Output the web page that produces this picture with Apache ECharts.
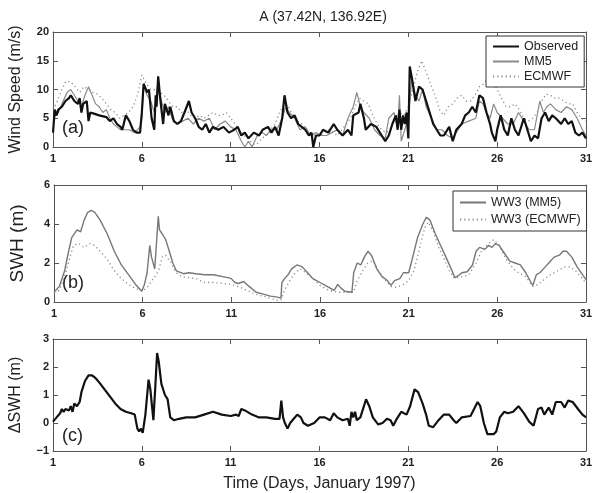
<!DOCTYPE html>
<html><head><meta charset="utf-8">
<script src="https://cdn.jsdelivr.net/npm/echarts@6/dist/echarts.min.js"></script>
<style>html,body{margin:0;padding:0;background:#fff}#c{width:596px;height:493px}</style>
</head><body><div id="c"></div>
<script>
const titleText = 'A (37.42N, 136.92E)';
const xTicks = [1, 6, 11, 16, 21, 26, 31];
// Panel (a) wind speed [day, m/s]
const windObserved = [[1,2.5],[1.1,6.5],[1.2,5.5],[1.3,6.5],[1.5,7],[1.7,8],[1.9,8.5],[2.0,9],[2.2,8],[2.4,7.5],[2.5,8.5],[2.6,6],[2.7,7.5],[2.9,8],[3.0,4.5],[3.1,6],[3.3,5.8],[3.6,5.5],[4.0,5.2],[4.2,4.5],[4.4,5],[4.6,4],[4.8,3.5],[4.9,3],[5.1,5.5],[5.3,4.5],[5.5,3],[5.7,2.5],[5.9,2.5],[6.0,6],[6.1,11],[6.3,9.5],[6.4,10],[6.55,5],[6.7,3],[6.78,9],[6.83,7],[6.92,12.3],[7.05,8],[7.2,4],[7.3,7.5],[7.5,5.5],[7.6,7],[7.8,4.5],[8.0,4],[8.2,4.5],[8.4,6],[8.65,8],[8.8,6],[9.0,5],[9.2,3.5],[9.4,3],[9.6,4],[9.8,2.5],[10,3.5],[10.3,3],[10.6,3.5],[10.9,2.5],[11.2,3],[11.4,3.5],[11.6,2],[11.8,2.5],[12.0,1.5],[12.3,2.5],[12.6,2],[12.8,3],[13.1,3.5],[13.3,2.5],[13.5,3.5],[13.7,2],[13.9,5],[14.03,9],[14.2,6],[14.4,5],[14.6,5.5],[14.8,4],[15.0,3.5],[15.2,3],[15.4,2],[15.55,2.5],[15.65,0],[15.8,2],[16.0,2],[16.2,3],[16.5,2.5],[16.8,4],[17.0,3],[17.3,2],[17.6,3],[17.8,2],[17.9,5.5],[18.2,6],[18.3,7.5],[18.5,5],[18.6,3],[18.9,4],[19.2,3.5],[19.5,2],[19.7,1],[19.9,2],[20.1,4],[20.3,5.5],[20.4,3],[20.5,6.5],[20.6,3],[20.7,5.5],[20.8,4],[20.9,6],[21.0,1.5],[21.08,14],[21.2,12],[21.4,8],[21.6,10.5],[21.8,10],[22.0,8],[22.2,6],[22.4,4],[22.6,3],[22.8,2],[23.0,2],[23.3,3.5],[23.5,1],[23.7,3],[24.0,4],[24.2,5.5],[24.4,6],[24.6,7],[24.8,6],[25.0,9],[25.2,8.5],[25.4,6],[25.6,4],[25.7,2.5],[25.9,1],[26.0,3],[26.2,5.5],[26.4,3],[26.6,2],[26.8,5],[27.0,3],[27.2,2],[27.5,5],[27.7,3],[27.9,1],[28.1,2],[28.3,1.5],[28.5,5],[28.7,6],[28.9,4.5],[29.1,5.5],[29.3,5],[29.6,4],[29.8,5],[30.0,4],[30.2,4.5],[30.4,2.5],[30.6,2],[30.8,2.5],[31,1.5]];
const windMM5 = [[1,5],[1.3,6],[1.5,7.5],[1.8,9.5],[2.0,10],[2.2,9],[2.4,8],[2.6,7],[2.8,9],[3.0,10.5],[3.2,9],[3.4,7.5],[3.6,7],[3.8,6],[4.0,6.5],[4.2,5],[4.4,4],[4.6,3.5],[4.8,3],[5.0,3],[5.3,3],[5.6,2.5],[5.9,3.5],[6.0,5],[6.1,10.5],[6.3,9],[6.5,8],[6.7,6],[6.9,11],[7.1,8],[7.3,6],[7.5,7],[7.7,5],[8.0,4],[8.3,4.5],[8.6,5],[8.9,4],[9.2,5],[9.5,4.5],[9.8,5],[10.1,3],[10.4,4],[10.7,4.5],[11.0,3.5],[11.3,3],[11.6,1],[11.8,0],[12.0,1],[12.2,0],[12.5,2],[12.8,2.5],[13.0,2],[13.3,3],[13.6,3],[13.9,5],[14.1,7],[14.3,6],[14.6,5],[14.9,3],[15.2,3.5],[15.5,2],[15.8,2.5],[16.1,2],[16.4,2],[16.7,2.5],[17.0,3],[17.3,2],[17.6,5],[17.9,7],[18.1,9.5],[18.3,7],[18.5,6],[18.8,5],[19.1,3],[19.4,2],[19.7,1.5],[19.9,5],[20.2,6],[20.4,3],[20.5,9],[20.6,1],[20.8,3],[21.0,5],[21.2,12],[21.4,9],[21.6,8],[21.8,10],[22.0,7],[22.3,5],[22.6,3],[22.9,3],[23.2,2],[23.5,1.5],[23.8,3],[24.0,4],[24.4,4.5],[24.8,5],[25.0,8],[25.2,7.5],[25.4,6],[25.6,5],[25.8,7.5],[26.0,6],[26.3,5],[26.6,4],[26.9,4],[27.2,6],[27.5,4.5],[27.8,3],[28.1,3],[28.4,8],[28.6,6],[28.8,7],[29.0,7.5],[29.3,6.5],[29.6,6],[29.9,7],[30.2,6.5],[30.5,5],[30.8,3],[31,2]];
const windECMWF = [[1,6.5],[1.25,8],[1.5,10],[1.75,11.5],[2.0,11.3],[2.25,10.5],[2.5,9.5],[2.75,10.5],[3.0,10],[3.25,9.5],[3.5,9.2],[3.75,8.5],[4.0,7.5],[4.25,6.5],[4.5,6],[4.75,5],[5.0,5.5],[5.25,6],[5.5,7],[5.75,9],[6.0,12.5],[6.25,11],[6.5,10],[6.75,10],[7.0,9.5],[7.25,9],[7.5,8],[7.75,7],[8.0,7],[8.25,6],[8.5,6.5],[8.75,5.5],[9.0,5],[9.25,5.5],[9.5,5],[9.75,5.5],[10.0,6],[10.25,5.5],[10.5,5.5],[10.75,6],[11.0,5],[11.25,4],[11.5,3],[11.75,2],[12.0,1.5],[12.25,0.5],[12.5,0.5],[12.75,1.5],[13.0,2],[13.25,3],[13.5,4],[13.75,6],[14.0,7.5],[14.25,7],[14.5,5.5],[14.75,4.5],[15.0,4],[15.25,3],[15.5,2.5],[15.75,2],[16.0,2],[16.25,2.5],[16.5,3],[16.75,2.5],[17.0,2],[17.25,3],[17.5,4],[17.75,5],[18.0,7],[18.25,8.5],[18.5,8],[18.75,7.5],[19.0,5.5],[19.25,4],[19.5,3],[19.75,2.5],[20.0,3],[20.25,5],[20.5,6],[20.75,5.5],[21.0,7],[21.25,10],[21.5,13],[21.75,15],[22.0,13],[22.25,11],[22.5,9],[22.75,6.5],[23.0,5.5],[23.25,7],[23.5,7.5],[23.75,8.5],[24.0,9],[24.25,8],[24.5,8],[24.75,9],[25.0,10.5],[25.25,11],[25.5,12],[25.75,11.5],[26.0,10],[26.25,8.5],[26.5,7],[26.75,7],[27.0,7.5],[27.25,6.5],[27.5,5],[27.75,4.5],[28.0,5],[28.25,6],[28.5,8],[28.75,9.2],[29.0,9],[29.25,8.5],[29.5,8.5],[29.75,8],[30.0,7.5],[30.25,7.5],[30.5,6],[30.75,5],[31,4.5]];
// Panel (b) significant wave height [day, m]
const swhMM5 = [[1.0,0.5],[1.3,0.8],[1.6,1.6],[1.8,2.5],[2.0,3.3],[2.1,3.4],[2.3,3.7],[2.5,3.6],[2.7,4.2],[2.9,4.6],[3.1,4.7],[3.3,4.6],[3.6,4.2],[4.0,3.5],[4.4,2.6],[4.8,1.9],[5.2,1.4],[5.6,0.9],[5.95,0.55],[6.1,0.9],[6.25,1.5],[6.4,2.9],[6.5,2.3],[6.68,1.7],[6.8,3.3],[6.88,4.4],[6.95,3.7],[7.1,3.5],[7.3,3.2],[7.5,2.6],[7.7,2.0],[7.9,1.6],[8.3,1.45],[8.6,1.5],[9.0,1.45],[9.5,1.4],[10.0,1.4],[10.5,1.3],[10.8,1.25],[11.0,1.2],[11.2,1.0],[11.4,0.95],[11.7,1.05],[12.0,0.8],[12.4,0.5],[12.8,0.4],[13.2,0.3],[13.6,0.25],[13.8,0.2],[13.85,1.0],[14.0,1.2],[14.2,1.4],[14.4,1.7],[14.7,1.9],[15.0,1.8],[15.3,1.5],[15.6,1.2],[16.0,1.0],[16.4,0.8],[16.8,0.6],[17.0,0.9],[17.2,0.7],[17.4,0.55],[17.8,0.5],[17.9,1.5],[18.1,2.0],[18.3,1.9],[18.5,2.3],[18.7,2.6],[18.9,2.4],[19.2,1.7],[19.5,1.3],[19.8,1.1],[20.0,0.85],[20.2,1.1],[20.5,1.2],[20.7,1.5],[21.0,1.5],[21.2,2.2],[21.5,3.3],[21.8,4.0],[22.0,4.35],[22.2,4.2],[22.5,3.5],[22.8,2.9],[23.1,2.3],[23.4,1.7],[23.6,1.25],[23.8,1.35],[24.0,1.5],[24.3,1.55],[24.6,1.9],[24.8,2.6],[25.0,2.8],[25.3,2.7],[25.5,2.9],[25.7,2.8],[25.9,3.0],[26.1,2.9],[26.4,2.5],[26.7,2.1],[27.0,2.0],[27.3,1.9],[27.6,1.5],[27.9,1.0],[28.0,0.85],[28.2,1.4],[28.4,1.5],[28.6,1.7],[28.9,2.0],[29.2,2.3],[29.5,2.4],[29.7,2.6],[29.9,2.6],[30.2,2.3],[30.5,1.8],[30.8,1.4],[31,1.15]];
const swhECMWF = [[1.0,0.5],[1.3,0.6],[1.6,1.3],[1.9,2.3],[2.1,2.9],[2.4,3.0],[2.7,2.8],[3.0,3.0],[3.3,2.9],[3.6,2.6],[4.0,2.2],[4.4,1.6],[4.8,1.2],[5.2,0.9],[5.6,0.7],[6.0,0.55],[6.3,0.8],[6.6,1.2],[6.9,1.6],[7.1,2.3],[7.3,2.4],[7.6,2.0],[7.9,1.5],[8.2,1.3],[8.6,1.25],[9.0,1.2],[9.5,1.0],[10.0,1.0],[10.5,0.95],[11.0,0.9],[11.5,0.75],[12.0,0.55],[12.5,0.35],[13.0,0.25],[13.5,0.1],[13.8,0.1],[14.0,0.6],[14.3,1.1],[14.6,1.5],[14.9,1.7],[15.2,1.5],[15.6,1.2],[16.0,0.85],[16.5,0.6],[17.0,0.5],[17.5,0.5],[17.9,0.5],[18.1,1.1],[18.4,1.6],[18.7,2.0],[19.0,2.1],[19.3,1.6],[19.6,1.2],[20.0,0.8],[20.3,0.75],[20.7,0.9],[21.0,1.1],[21.3,1.6],[21.6,2.7],[21.9,3.8],[22.1,4.1],[22.4,3.6],[22.7,2.8],[23.0,2.2],[23.3,1.6],[23.6,1.2],[24.0,1.3],[24.4,1.4],[24.8,2.0],[25.1,2.6],[25.5,3.0],[25.8,3.2],[26.1,2.9],[26.5,2.2],[26.9,1.7],[27.2,1.5],[27.6,1.3],[28.0,0.8],[28.3,0.9],[28.7,1.2],[29.0,1.4],[29.4,1.6],[29.8,1.8],[30.1,1.8],[30.4,1.6],[30.8,1.2],[31,0.95]];
// Panel (c) SWH difference [day, m]
const dSWH = [[1.0,0.05],[1.2,0.2],[1.4,0.35],[1.5,0.5],[1.6,0.4],[1.7,0.5],[1.9,0.45],[2.0,0.6],[2.1,0.4],[2.2,0.7],[2.35,0.6],[2.5,0.75],[2.6,1.1],[2.8,1.5],[3.0,1.7],[3.2,1.7],[3.4,1.6],[3.6,1.45],[3.9,1.2],[4.2,0.95],[4.5,0.7],[4.8,0.5],[5.1,0.4],[5.4,0.35],[5.6,0.3],[5.75,-0.2],[5.85,-0.3],[5.95,-0.2],[6.05,-0.35],[6.2,0.3],[6.3,1.0],[6.38,1.55],[6.48,1.2],[6.65,0.1],[6.75,1.2],[6.86,2.5],[6.95,2.2],[7.1,1.4],[7.3,1.0],[7.45,0.85],[7.6,0.2],[7.8,0.1],[8.1,0.15],[8.5,0.2],[9.0,0.2],[9.5,0.3],[10.0,0.4],[10.5,0.3],[11.0,0.25],[11.3,0.3],[11.45,0.25],[11.6,0.5],[11.8,0.45],[12.2,0.3],[12.6,0.2],[13.0,0.2],[13.5,0.15],[13.75,0.15],[13.85,0.8],[13.95,0.2],[14.05,0.0],[14.2,-0.2],[14.35,0.0],[14.55,0.15],[14.75,0.3],[14.95,0.2],[15.1,0.0],[15.35,-0.1],[15.7,0.0],[16.0,0.2],[16.3,0.2],[16.6,0.1],[16.8,0.35],[17.0,0.2],[17.3,0.1],[17.6,0.15],[17.7,-0.1],[17.8,0.4],[17.9,0.2],[18.0,0.4],[18.1,0.1],[18.3,0.2],[18.5,0.6],[18.62,0.85],[18.8,0.6],[19.0,0.2],[19.3,-0.05],[19.55,0.0],[19.8,0.15],[20.0,0.1],[20.15,-0.1],[20.35,0.15],[20.6,0.4],[20.9,0.3],[21.1,0.6],[21.35,1.2],[21.55,1.1],[21.8,0.7],[22.0,0.3],[22.15,-0.1],[22.4,-0.15],[22.7,0.1],[23.0,0.3],[23.3,0.3],[23.55,0.1],[23.7,0.0],[24.0,0.2],[24.5,0.25],[24.7,0.5],[24.9,0.75],[25.05,0.6],[25.25,0.0],[25.45,-0.4],[25.8,-0.4],[25.95,-0.3],[26.15,0.2],[26.4,0.4],[26.6,0.35],[26.9,0.4],[27.2,0.6],[27.5,0.35],[27.8,0.05],[28.05,-0.1],[28.3,0.5],[28.5,0.55],[28.65,0.3],[28.9,0.55],[29.1,0.3],[29.3,0.75],[29.6,0.75],[29.8,0.55],[30.0,0.8],[30.25,0.75],[30.55,0.5],[30.8,0.3],[31,0.2]];

const AX = '#555', TXT = '#222', FONT = 'Liberation Sans';
const grids = [
  {left: 50, top: 32, width: 536, height: 115},
  {left: 50, top: 185, width: 536, height: 117},
  {left: 50, top: 339, width: 536, height: 115}
];
const yRanges = [{min:0,max:20,interval:5},{min:0,max:6,interval:2},{min:-1,max:3,interval:1}];
const yNames = [
  {text:'Wind Speed (m/s)', size:16, gap:29},
  {text:'SWH (m)', size:19, gap:27},
  {text:'\u0394SWH (m)', size:16, gap:29}
];
const xAxes = [], yAxes = [];
grids.forEach((g, i) => {
  xAxes.push({gridIndex:i, type:'value', min:1, max:31, interval:5, position:'bottom',
    axisLine:{show:true, onZero:false, lineStyle:{color:AX, width:1}},
    axisTick:{show:true, inside:true, length:5, lineStyle:{color:AX}},
    axisLabel:{color:TXT, fontFamily:FONT, fontSize:11, fontWeight:'bold', margin:6},
    splitLine:{show:false},
    name: i===2 ? 'Time (Days, January 1997)' : '', nameLocation:'middle', nameGap:25,
    nameTextStyle:{color:TXT, fontFamily:FONT, fontSize:16}});
  xAxes.push({gridIndex:i, type:'value', min:1, max:31, interval:5, position:'top',
    axisLine:{show:true, onZero:false, lineStyle:{color:AX, width:1}},
    axisTick:{show:true, inside:true, length:5, lineStyle:{color:AX}},
    axisLabel:{show:false}, splitLine:{show:false}});
  const r = yRanges[i];
  yAxes.push({gridIndex:i, type:'value', min:r.min, max:r.max, interval:r.interval, position:'left',
    axisLine:{show:true, onZero:false, lineStyle:{color:AX, width:1}},
    axisTick:{show:true, inside:true, length:5, lineStyle:{color:AX}},
    axisLabel:{color:TXT, fontFamily:FONT, fontSize:11, fontWeight:'bold', margin:4,
      formatter: v => String(v).replace('-', '\u2212')},
    splitLine:{show:false},
    name: yNames[i].text, nameLocation:'middle', nameGap:yNames[i].gap, nameRotate:90,
    nameTextStyle:{color:TXT, fontFamily:FONT, fontSize:yNames[i].size}});
  yAxes.push({gridIndex:i, type:'value', min:r.min, max:r.max, interval:r.interval, position:'right',
    axisLine:{show:true, onZero:false, lineStyle:{color:AX, width:1}},
    axisTick:{show:true, inside:true, length:5, lineStyle:{color:AX}},
    axisLabel:{show:false}, splitLine:{show:false}});
});
function line(name, data, gi, color, width, type) {
  return {name, type:'line', data, xAxisIndex:gi*2, yAxisIndex:gi*2, showSymbol:false, symbol:'none',
    lineStyle:{color, width, type: type || 'solid'}, itemStyle:{color}, animation:false, z: type ? 2 : 3};
}
const dotted = [1.2, 3];
const legendBase = {orient:'vertical', itemWidth:26, itemHeight:10,
  borderColor:'#333', borderWidth:1, backgroundColor:'#fff',
  itemStyle:{color:'rgba(0,0,0,0)', borderColor:'rgba(0,0,0,0)', borderWidth:0},
  textStyle:{color:TXT, fontFamily:FONT, fontSize:12.5}};
const option = {
  backgroundColor:'#fff',
  animation:false,
  title:{text:titleText, left:318, textAlign:'center', top:5,
    textStyle:{color:TXT, fontFamily:FONT, fontSize:14, fontWeight:'normal'}},
  grid: grids.map(g => Object.assign({containLabel:false}, g)),
  xAxis: xAxes, yAxis: yAxes,
  legend:[
    Object.assign({}, legendBase, {data:['Observed','MM5','ECMWF'], left:486, top:36, itemGap:2, padding:[4,6,4,6]}),
    Object.assign({}, legendBase, {data:['WW3 (MM5)','WW3 (ECMWF)'], left:453, top:191, itemGap:4, padding:[5,6,5,6]})
  ],
  graphic:[
    {type:'text', left:62, top:119, style:{text:'(a)', fill:TXT, font:'18px "Liberation Sans"'}},
    {type:'text', left:62, top:274, style:{text:'(b)', fill:TXT, font:'18px "Liberation Sans"'}},
    {type:'text', left:62, top:427, style:{text:'(c)', fill:TXT, font:'18px "Liberation Sans"'}}
  ],
  series:[
    line('ECMWF', windECMWF, 0, '#8a8a8a', 1.3, dotted),
    line('MM5', windMM5, 0, '#8a8a8a', 1.2),
    line('Observed', windObserved, 0, '#111', 2.2),
    line('WW3 (ECMWF)', swhECMWF, 1, '#8a8a8a', 1.3, dotted),
    line('WW3 (MM5)', swhMM5, 1, '#777', 1.4),
    line('dSWH', dSWH, 2, '#111', 2.2)
  ]
};
const chart = echarts.init(document.getElementById('c'), null, {renderer:'canvas'});
chart.setOption(option);
</script></body></html>
